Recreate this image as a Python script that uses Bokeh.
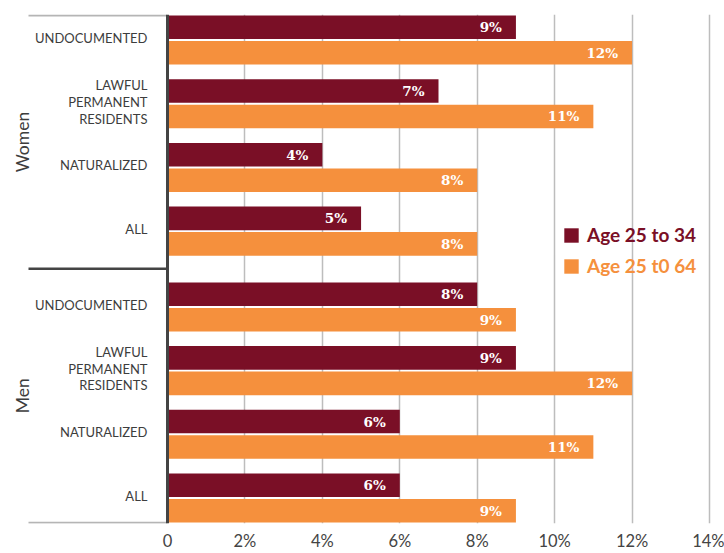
from bokeh.plotting import figure
from bokeh.models import ColumnDataSource, Span, Legend, LegendItem, FixedTicker
from bokeh.core.properties import value
from bokeh.embed import file_html
from bokeh.resources import INLINE

# ---- data ----
sections = ["Women", "Men"]
categories = ["UNDOCUMENTED", "LAWFUL\nPERMANENT\nRESIDENTS", "NATURALIZED", "ALL"]
women_25_34 = [9, 7, 4, 5]
women_25_64 = [12, 11, 8, 8]
men_25_34 = [8, 9, 6, 6]
men_25_64 = [9, 12, 11, 9]
series_names = ["Age 25 to 34", "Age 25 t0 64"]
x_ticks = [0, 2, 4, 6, 8, 10, 12, 14]
x_tick_labels = ["0", "2%", "4%", "6%", "8%", "10%", "12%", "14%"]

DARK = "#7a0f26"
ORANGE = "#f5903d"
TEXT = "#3d3d3d"

# layout parameters
SECTION_GAP = 0.19
BAR_H = 0.37
OFF = 0.2
TOP = -0.385
SEP = 3.589
BOTTOM = 7.578

ys, lab, v1, v2 = [], [], [], []
for s, (a, b) in enumerate([(women_25_34, women_25_64), (men_25_34, men_25_64)]):
    for i, c in enumerate(categories):
        y = s * (len(categories) + SECTION_GAP) + i
        ys.append(y)
        lab.append(c)
        v1.append(a[i])
        v2.append(b[i])

src1 = ColumnDataSource(dict(y=[y - OFF for y in ys], v=v1, t=[f"{v}%" for v in v1]))
src2 = ColumnDataSource(dict(y=[y + OFF for y in ys], v=v2, t=[f"{v}%" for v in v2]))
srccat = ColumnDataSource(dict(y=ys, t=lab, x=[0] * len(ys)))

px_per_unit = 542 / 14.0
ZERO_PX = 167
x_start = -ZERO_PX / px_per_unit
x_end = (724 - ZERO_PX) / px_per_unit

p = figure(width=724, height=553, output_backend="svg", toolbar_location=None,
           x_range=(x_start, x_end), y_range=(BOTTOM + 0.012, TOP - 0.016),
           min_border_left=0, min_border_right=0, min_border_top=14, min_border_bottom=30)
p.outline_line_color = None
p.yaxis.visible = False
p.ygrid.visible = False

p.xgrid.ticker = FixedTicker(ticks=x_ticks[1:])
p.xgrid.grid_line_color = "#bdbdbd"
p.xgrid.grid_line_width = 1.5

xa = p.xaxis[0]
xa.ticker = FixedTicker(ticks=x_ticks)
xa.major_label_overrides = {t: l for t, l in zip(x_ticks, x_tick_labels)}
xa.axis_line_color = None
xa.major_tick_line_color = None
xa.minor_tick_line_color = None
xa.major_tick_out = 0
xa.major_tick_in = 0
xa.minor_tick_out = 0
xa.major_label_text_font = "Lato"
xa.major_label_text_font_size = "16.5px"
xa.major_label_text_color = "#444444"
xa.major_label_standoff = 7

r1 = p.hbar(y="y", right="v", left=0, height=BAR_H, source=src1, fill_color=DARK, line_color=None)
r2 = p.hbar(y="y", right="v", left=0, height=BAR_H, source=src2, fill_color=ORANGE, line_color=None)

for src in (src1, src2):
    p.text(x="v", y="y", text="t", source=src, text_align="right", text_baseline="middle",
           x_offset=-14, text_color="white", text_font=value("DejaVu Serif"),
           text_font_style="bold", text_font_size="13.5px")

p.text(x="x", y="y", text="t", source=srccat, text_align="right", text_baseline="middle",
       x_offset=-20, y_offset=-2, text_color=TEXT, text_font=value("Lato"), text_font_size="13px",
       text_line_height=1.05)

# section labels
sec_src = ColumnDataSource(dict(x=[x_start] * 2, y=[(TOP + SEP) / 2, (SEP + BOTTOM) / 2], t=sections))
p.text(x="x", y="y", text="t", source=sec_src, angle=1.5708, text_align="center",
       text_baseline="middle", x_offset=22, text_color=TEXT, text_font=value("Lato"),
       text_font_size="17.5px")

# rules of the left table
rule_x0 = -(ZERO_PX - 28) / px_per_unit
p.segment(x0=[rule_x0, rule_x0], x1=[0, 0], y0=[TOP, BOTTOM], y1=[TOP, BOTTOM],
          line_color="#b5b5b5", line_width=2)
p.segment(x0=[rule_x0], x1=[0], y0=[SEP], y1=[SEP], line_color="#444444", line_width=2.5)
p.add_layout(Span(location=0, dimension="height", line_color="#444444", line_width=3))

# legends
for r, name, col, loc in [(r1, series_names[0], DARK, (562, 277)), (r2, series_names[1], ORANGE, (562, 246))]:
    lg = Legend(items=[LegendItem(label=name, renderers=[r])], location=loc,
                padding=0, margin=0, spacing=0, glyph_width=18, glyph_height=18,
                label_standoff=7, label_text_font="Lato", label_text_font_style="bold",
                label_text_font_size="19px", label_text_color=col,
                background_fill_alpha=0, border_line_alpha=0, label_height=18)
    p.add_layout(lg)

open("out.html", "w").write(file_html(p, INLINE))
